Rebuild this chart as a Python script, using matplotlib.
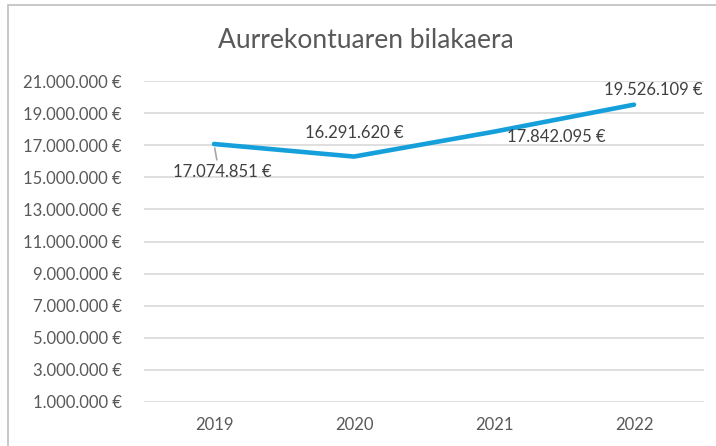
import matplotlib
matplotlib.use("Agg")
import matplotlib.pyplot as plt
from matplotlib.patches import Rectangle

years = ["2019", "2020", "2021", "2022"]
values = [17074851, 16291620, 17842095, 19526109]
yticks = [1000000, 3000000, 5000000, 7000000, 9000000, 11000000,
          13000000, 15000000, 17000000, 19000000, 21000000]
title = "Aurrekontuaren bilakaera"

def eur(v):
    return f"{v:,.0f}".replace(",", ".") + " €"

plt.rcParams['font.family'] = ['Lato', 'DejaVu Sans']
W, H = 716, 446
fig = plt.figure(figsize=(W / 100, H / 100), dpi=100)
fig.patch.set_facecolor('white')

# chart border
fig.add_artist(Rectangle((8 / W, -0.1), 1.2, (H - 5) / H + 0.1, transform=fig.transFigure,
                         fill=False, edgecolor='#BFBFBF', linewidth=1.2))

ax = fig.add_axes([144 / W, 1 - 402 / H, (704 - 144) / W, (402 - 81) / H])
x = list(range(len(years)))
ax.plot(x, values, color='#16A0DB', linewidth=3.3, solid_capstyle='round', zorder=3)
ax.set_xlim(-0.5, len(years) - 0.5)
ax.set_ylim(yticks[0], yticks[-1])
ax.set_yticks(yticks)
ax.set_yticklabels([eur(v) for v in yticks])
ax.set_xticks(x)
ax.set_xticklabels(years)
ax.grid(axis='y', color='#D9D9D9', linewidth=1.2)
ax.set_axisbelow(True)
for s in ax.spines.values():
    s.set_visible(False)
ax.tick_params(axis='both', length=0, colors='#595959', labelsize=12)
ax.tick_params(axis='y', pad=16)
ax.tick_params(axis='x', pad=11)

offsets = [(8.5, -28), (0, 24), (62, -5), (19, 15)]
for i, v in enumerate(values):
    dx, dy = offsets[i]
    kw = {}
    if i == 0:
        kw['arrowprops'] = dict(arrowstyle='-', color='#A6A6A6', linewidth=1.2,
                                shrinkA=1, shrinkB=3, relpos=(0.45, 1.0))
    ax.annotate(eur(v), (i, v), xytext=(dx, dy), textcoords='offset pixels',
                ha='center', va='center', fontsize=12, color='#404040', **kw)

fig.text(366 / W, 1 - 41 / H, title, ha='center', va='center', fontsize=19,
         color='#595959', fontweight='normal')

fig.savefig('out.png', dpi=100)
